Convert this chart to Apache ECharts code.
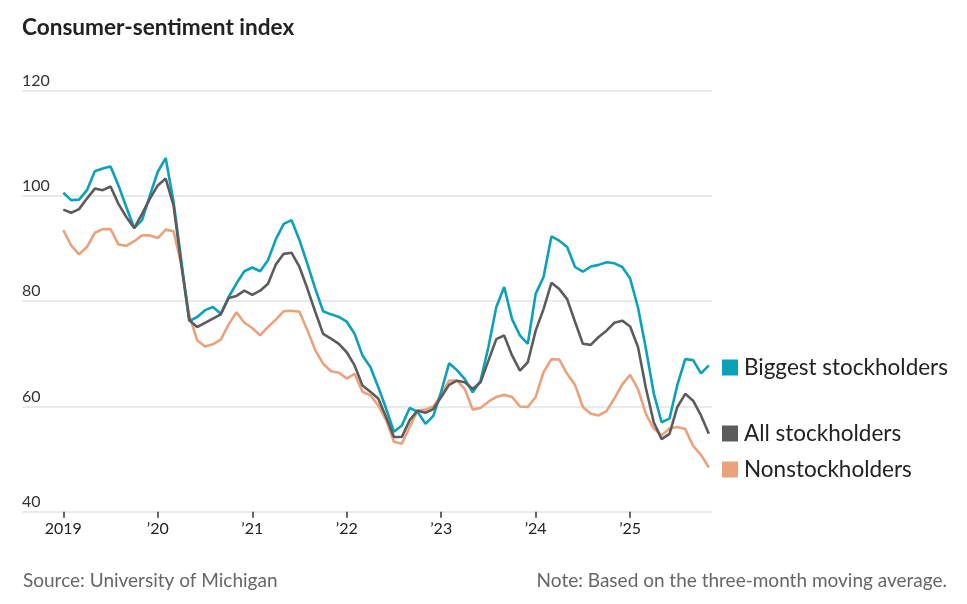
<!DOCTYPE html>
<html>
<head>
<meta charset="utf-8">
<script src="https://cdn.jsdelivr.net/npm/echarts@6/dist/echarts.min.js"></script>
<style>
html,body{margin:0;padding:0;background:#fff;}
#chart{width:967px;height:604px;}
</style>
</head>
<body>
<div id="chart"></div>
<script>
// Monthly, Jan 2019 .. Nov 2025 (index 0 = Jan 2019)
var tickMonths = [0, 12, 24, 36, 48, 60, 72];
var tickLabels = ['2019', '’20', '’21', '’22', '’23', '’24', '’25'];
var seriesNames = ['Biggest stockholders', 'All stockholders', 'Nonstockholders'];

var biggest = [100.6,99.2,99.3,101.1,104.7,105.2,105.6,102.0,97.9,93.9,95.4,100.1,
  104.6,107.2,98.9,87.5,76.2,77.0,78.3,78.9,77.6,80.8,83.4,85.7,
  86.4,85.7,87.8,91.8,94.7,95.4,91.6,87.1,82.4,78.1,77.5,77.0,
  76.1,73.8,69.7,67.5,63.7,59.6,55.2,56.4,59.7,59.0,56.7,58.2,
  62.8,68.2,66.9,65.2,62.7,64.9,71.3,78.9,82.7,76.6,73.5,71.9,
  81.4,84.6,92.3,91.5,90.3,86.5,85.6,86.6,86.9,87.4,87.2,86.5,
  84.3,78.8,71.0,62.5,57.0,57.7,64.1,69.0,68.8,66.3,67.8];

var allHolders = [97.4,96.8,97.5,99.5,101.4,101.1,101.8,98.5,96.0,93.9,96.6,99.5,
  102.0,103.3,98.2,86.8,76.4,75.1,75.9,76.7,77.5,80.6,81.0,82.0,
  81.2,82.0,83.3,87.0,89.0,89.2,86.5,82.4,78.0,73.8,72.9,71.9,
  70.3,67.8,64.0,62.8,61.5,58.0,54.2,54.2,57.4,59.2,58.8,59.5,
  61.8,64.1,64.9,64.6,63.3,64.6,68.7,72.8,73.5,69.7,66.8,68.4,
  74.4,78.5,83.5,82.3,80.4,76.1,71.9,71.7,73.2,74.4,75.9,76.3,
  75.2,71.3,63.5,57.0,53.8,54.8,59.9,62.4,61.1,58.3,54.8];

var nonHolders = [93.5,90.6,88.9,90.3,93.0,93.7,93.7,90.8,90.5,91.4,92.5,92.5,
  92.0,93.6,93.3,86.8,77.3,72.6,71.4,71.8,72.7,75.6,77.9,75.9,
  74.9,73.5,75.1,76.5,78.1,78.2,78.0,74.5,70.7,68.1,66.7,66.4,
  65.3,66.2,62.8,62.1,60.2,57.4,53.3,52.9,56.1,59.2,59.4,60.0,
  62.2,64.9,64.9,63.3,59.4,59.7,60.9,61.8,62.2,61.8,60.0,59.9,
  61.8,66.5,69.0,68.9,66.2,64.1,59.9,58.6,58.3,59.1,61.5,64.2,
  66.0,63.3,58.6,55.8,54.5,55.8,56.1,55.7,52.5,50.8,48.4];

function pairs(arr){ return arr.map(function(v,i){ return [i, v]; }); }

var FONT = 'Lato';
var colors = { big: '#0aa1b9', all: '#5c5c5c', non: '#eaa27c' };

function legendAt(name, top){
  return {
    data: [name], left: 722, top: top, orient: 'vertical',
    padding: 0, itemWidth: 16, itemHeight: 16, icon: 'rect',
    selectedMode: false,
    textStyle: { fontFamily: FONT, fontSize: 22.5, color: '#222', lineHeight: 16, padding: [0,0,0,1] }
  };
}

var chart = echarts.init(document.getElementById('chart'), null, { renderer: 'canvas' });
chart.setOption({
  animation: false,
  backgroundColor: '#fff',
  title: {
    text: 'Consumer-sentiment index', left: 22, top: 16, padding: 0,
    textStyle: { fontFamily: FONT, fontSize: 22.6, fontWeight: 'bold', color: '#222' }
  },
  legend: [
    legendAt(seriesNames[0], 356),
    legendAt(seriesNames[1], 422),
    legendAt(seriesNames[2], 458)
  ],
  grid: { left: 22, right: 255, top: 90.7, bottom: 92.3, containLabel: false, outerBoundsMode: 'none' },
  xAxis: {
    type: 'value', min: -5.25, max: 82.4,
    axisLine: { show: false },
    splitLine: { show: false },
    axisTick: { show: true, length: 6, customValues: tickMonths, lineStyle: { color: '#333', width: 1.5 } },
    axisLabel: {
      customValues: tickMonths, margin: 9,
      fontFamily: FONT, fontSize: 16, color: '#222',
      formatter: function(v){ var k = tickMonths.indexOf(Math.round(v)); return k >= 0 ? tickLabels[k] : ''; }
    }
  },
  yAxis: {
    type: 'value', min: 40, max: 120, interval: 20,
    axisLine: { show: false }, axisTick: { show: false },
    splitLine: { show: true, lineStyle: { color: '#e3e3e3', width: 1.5 } },
    axisLabel: {
      inside: true, verticalAlign: 'bottom', margin: 0, padding: [0,0,2,0],
      fontFamily: FONT, fontSize: 16, color: '#333'
    }
  },
  series: [
    { name: seriesNames[2], type: 'line', data: pairs(nonHolders), symbol: 'none', z: 2,
      itemStyle: { color: colors.non }, lineStyle: { color: colors.non, width: 2.6 } },
    { name: seriesNames[0], type: 'line', data: pairs(biggest), symbol: 'none', z: 3,
      itemStyle: { color: colors.big }, lineStyle: { color: colors.big, width: 2.6 } },
    { name: seriesNames[1], type: 'line', data: pairs(allHolders), symbol: 'none', z: 4,
      itemStyle: { color: colors.all }, lineStyle: { color: colors.all, width: 2.6 } }
  ],
  graphic: [
    { type: 'text', left: 23, top: 571, style: { text: 'Source: University of Michigan', fontFamily: FONT, fontSize: 19, fill: '#666' } },
    { type: 'text', right: 20, top: 571, style: { text: 'Note: Based on the three-month moving average.', fontFamily: FONT, fontSize: 19, fill: '#666' } }
  ]
});
</script>
</body>
</html>
